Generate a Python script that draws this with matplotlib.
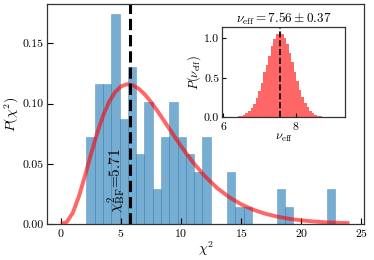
import numpy as np
import matplotlib
matplotlib.use("Agg")
import matplotlib.pyplot as plt

plt.rcParams['font.family'] = 'serif'
plt.rcParams['font.serif'] = ['cmr10']
plt.rcParams['mathtext.fontset'] = 'cm'
plt.rcParams['axes.formatter.use_mathtext'] = True

# main histogram of chi^2 values (30 bins, 100 samples)
chi2_lo, chi2_hi = 2.12, 22.78
chi2_counts = [5, 8, 8, 12, 6, 9, 4, 7, 2, 5, 7, 5, 4, 3, 5,
               0, 0, 3, 1, 1, 0, 0, 0, 2, 1, 0, 0, 0, 0, 2]
chi2_bf = 5.71

# chi^2 pdf curve
curve_x = [0, 0.5, 1, 1.5, 2, 2.5, 3, 3.5, 4, 4.5, 5, 5.5, 6, 6.5, 7, 7.5, 8, 9, 10,
           11, 12, 13, 14, 15, 16, 17, 18, 19, 20, 21, 22, 23, 24]
curve_y = [0, 0.0018, 0.0096, 0.0232, 0.0401, 0.0581, 0.0751, 0.0898, 0.1014, 0.1095,
           0.1143, 0.1161, 0.1151, 0.1121, 0.1073, 0.1012, 0.0943, 0.0793, 0.0645,
           0.0510, 0.0394, 0.0298, 0.0222, 0.0163, 0.0118, 0.0085, 0.0061, 0.0043,
           0.0030, 0.0021, 0.0014, 0.0010, 0.0007]

# inset: nu_eff posterior histogram
nu_lo, nu_width = 6.33, 0.07
nu_dens = [0.006, 0.011, 0.02, 0.03, 0.05, 0.08, 0.12, 0.17, 0.24, 0.33, 0.43, 0.57,
           0.66, 0.78, 0.90, 0.99, 1.06, 1.08, 1.05, 1.01, 0.93, 0.82, 0.70, 0.58,
           0.46, 0.35, 0.26, 0.18, 0.13, 0.085, 0.055, 0.033, 0.02, 0.012, 0.006]
nu_mean, nu_std = 7.56, 0.37

fig = plt.figure(figsize=(3.74, 2.6), dpi=100)
ax = fig.add_axes([0.1257, 0.1385, 0.8473, 0.8461])

nb = len(chi2_counts)
edges = np.linspace(chi2_lo, chi2_hi, nb + 1)
w = edges[1] - edges[0]
dens = np.array(chi2_counts) / (sum(chi2_counts) * w)
ax.bar(edges[:-1], dens, width=w, align='edge', color='#1f77b4', alpha=0.6,
       edgecolor='#1f77b4', linewidth=0.4)
ax.plot(curve_x, curve_y, color='r', alpha=0.6, lw=2.8, solid_capstyle='butt')
ax.axvline(chi2_bf, color='k', ls='--', lw=2.2)
ax.text(chi2_bf - 0.12, 0.009, r'$\chi^2_{\rm BF}$=5.71', rotation=90,
        ha='right', va='bottom', fontsize=11)

ax.set_xlim(-1.16, 25.2)
ax.set_ylim(0, 0.1827)
ax.set_xticks([0, 5, 10, 15, 20, 25])
ax.set_yticks([0, 0.05, 0.10, 0.15])
ax.set_yticklabels(['0.00', '0.05', '0.10', '0.15'])
ax.set_xlabel(r'$\chi^2$', fontsize=10, labelpad=0)
ax.set_ylabel(r'$P(\chi^2)$', fontsize=10, labelpad=1)
ax.tick_params(direction='in', length=4, labelsize=8.5, pad=2.5)
for s in ax.spines.values():
    s.set_color('#333333')
    s.set_linewidth(0.9)

# inset
ins = fig.add_axes([0.5936, 0.5488, 0.3289, 0.3462])
nu_left = nu_lo + nu_width * np.arange(len(nu_dens))
ins.bar(nu_left, nu_dens, width=nu_width, align='edge', color='r', alpha=0.6,
        linewidth=0)
ins.axvline(nu_mean, color='k', ls='--', lw=1.2)
ins.set_xlim(5.964, 9.35)
ins.set_ylim(0, 1.14)
ins.set_xticks([6, 8])
ins.set_yticks([0, 0.5, 1.0])
ins.set_yticklabels(['0.0', '0.5', '1.0'])
ins.set_title(r'$\nu_{\rm eff} = %.2f \pm %.2f$' % (nu_mean, nu_std), fontsize=9.5, pad=3)
ins.set_xlabel(r'$\nu_{\rm eff}$', fontsize=9, labelpad=0)
ins.set_ylabel(r'$P(\nu_{\rm eff})$', fontsize=9, labelpad=1)
ins.tick_params(direction='in', length=3, labelsize=8.5, pad=2)
for s in ins.spines.values():
    s.set_color('#333333')
    s.set_linewidth(0.9)

fig.savefig('out.png', dpi=100)
